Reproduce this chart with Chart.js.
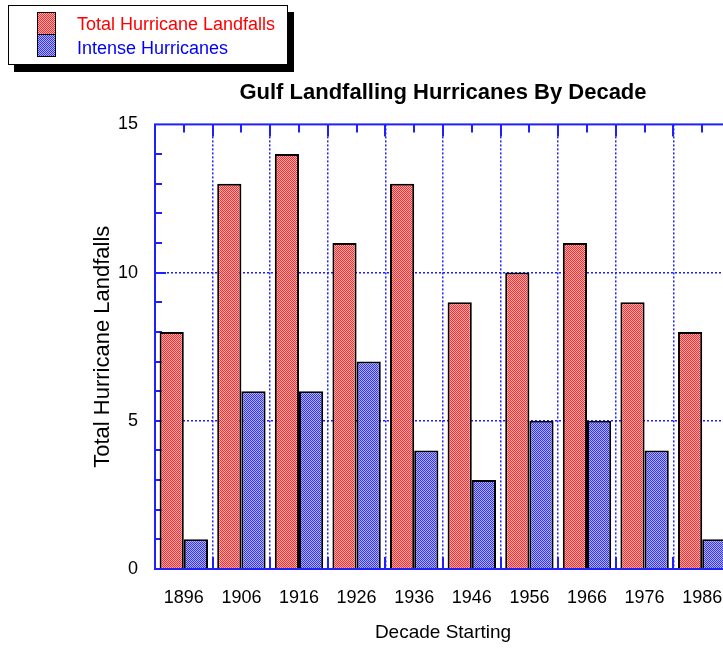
<!DOCTYPE html>
<html>
<head>
<meta charset="utf-8">
<script src="https://cdn.jsdelivr.net/npm/chart.js@4.4.1/dist/chart.umd.min.js"></script>
<style>
  html, body { margin: 0; padding: 0; overflow: hidden; background: #fff; width: 723px; height: 649px; }
  #wrap { position: relative; width: 745px; height: 649px; }
  #c { position: absolute; left: 0; top: 0; }
  #legend {
    position: absolute; left: 8px; top: 5px; width: 278px; height: 58px;
    border: 1.5px solid #000; background: #fff; box-shadow: 6px 7px 0 #000;
    font-family: "Liberation Sans", Arial, sans-serif; font-size: 18px;
  }
  #legend .sw { position: absolute; left: 28px; top: 6px; width: 17px; border: 1.5px solid #000; }
  #legend .sw div { height: 21px; }
  #legend .sw div + div { border-top: 1.5px solid #000; }
  #legend .item { position: absolute; left: 68px; line-height: 22px; white-space: nowrap; }
</style>
</head>
<body>
<div id="wrap">
  <canvas id="c" width="745" height="649"></canvas>
  <div id="legend"></div>
</div>
<script>
// values
const decades = ["1896", "1906", "1916", "1926", "1936", "1946", "1956", "1966", "1976", "1986"];
const totalLandfalls = [8, 13, 14, 11, 13, 9, 10, 11, 9, 8];
const intenseHurricanes = [1, 6, 6, 7, 4, 3, 5, 5, 4, 1];
const seriesNames = ["Total Hurricane Landfalls", "Intense Hurricanes"];
const yTicks = [0, 5, 10, 15];

const AXIS = "#1f1fff";
const FONT = "'Liberation Sans', Arial, sans-serif";

const canvas = document.getElementById("c");
const ctx = canvas.getContext("2d");

// 2x2 dither like the old Mac fill patterns
const checker = (c1, c2) => {
  const p = document.createElement("canvas");
  p.width = 2; p.height = 2;
  const g = p.getContext("2d");
  g.fillStyle = c2; g.fillRect(0, 0, 2, 2);
  g.fillStyle = c1; g.fillRect(0, 0, 1, 1); g.fillRect(1, 1, 1, 1);
  return ctx.createPattern(p, "repeat");
};

const redFill = checker("#ff2a2a", "#ffb0b0");
const blueFill = checker("#3030ff", "#b4b4ff");

// legend box (html, with the hard drop shadow)
const legend = document.getElementById("legend");
legend.innerHTML =
  '<div class="sw"><div style="background: repeating-conic-gradient(#ff2a2a 0 25%, #ffb0b0 0 50%) 0 0/2px 2px"></div>' +
  '<div style="background: repeating-conic-gradient(#3030ff 0 25%, #b4b4ff 0 50%) 0 0/2px 2px"></div></div>' +
  '<div class="item" style="top:7px;color:#f00">' + seriesNames[0] + '</div>' +
  '<div class="item" style="top:31px;color:#00f">' + seriesNames[1] + '</div>';

// frame and inward tick marks
const frame = {
  id: "frame",
  beforeDatasetsDraw(chart) {
    const { ctx, chartArea: a, scales: { x, y } } = chart;
    ctx.save();
    ctx.strokeStyle = AXIS;
    ctx.lineWidth = 2;
    ctx.beginPath();
    for (let v = 1; v < 15; v++) {
      const py = Math.round(y.getPixelForValue(v));
      const len = v % 5 === 0 ? 11 : 7;
      ctx.moveTo(a.left, py); ctx.lineTo(a.left + len, py);
    }
    const step = x.getPixelForValue(1) - x.getPixelForValue(0);
    decades.forEach((d, i) => {
      const cx = Math.round(x.getPixelForValue(i));
      ctx.moveTo(cx, a.top); ctx.lineTo(cx, a.top + 8);
      const bx = Math.round(x.getPixelForValue(i) + step / 2);
      ctx.moveTo(bx, a.top); ctx.lineTo(bx, a.top + 12);
      ctx.moveTo(bx, a.bottom); ctx.lineTo(bx, a.bottom - 12);
    });
    ctx.stroke();
    ctx.restore();
  },
  afterDatasetsDraw(chart) {
    const { ctx, chartArea: a } = chart;
    ctx.save();
    ctx.strokeStyle = AXIS;
    ctx.lineWidth = 2;
    ctx.strokeRect(a.left, a.top, a.right - a.left, a.bottom - a.top);
    ctx.restore();
  }
};

new Chart(ctx, {
  type: "bar",
  data: {
    labels: decades,
    datasets: [
      {
        label: seriesNames[0],
        data: totalLandfalls,
        backgroundColor: redFill,
        borderColor: "#000",
        borderWidth: 2,
      },
      {
        label: seriesNames[1],
        data: intenseHurricanes,
        backgroundColor: blueFill,
        borderColor: "#000",
        borderWidth: 2,
      },
    ],
  },
  options: {
    responsive: false,
    animation: false,
    categoryPercentage: 0.84,
    barPercentage: 1.0,
    layout: { padding: { left: 0, right: 14, top: 0, bottom: 0 } },
    plugins: {
      legend: { display: false },
      tooltip: { enabled: false },
      title: {
        display: true,
        fullSize: false,
        text: "Gulf Landfalling Hurricanes By Decade",
        color: "#000",
        font: { family: FONT, size: 22, weight: "bold" },
        padding: { top: 80, bottom: 18 },
      },
    },
    scales: {
      x: {
        grid: { drawTicks: false, lineWidth: 1.5, color: AXIS },
        border: { display: false, dash: [2, 2] },
        ticks: { color: "#000", padding: 18, font: { family: FONT, size: 18 } },
        title: {
          display: true,
          text: "Decade Starting",
          color: "#000",
          font: { family: FONT, size: 19 },
          padding: { top: 0, bottom: 5 },
        },
        afterFit: (s) => { s.height = 80; },
      },
      y: {
        min: 0,
        max: 15,
        grid: {
          drawTicks: false,
          lineWidth: 1.5,
          color: (c) => (c.tick && yTicks.includes(c.tick.value) && c.tick.value > 0 && c.tick.value < 15 ? AXIS : "rgba(0,0,0,0)"),
        },
        border: { display: false, dash: [2, 2] },
        ticks: {
          stepSize: 1,
          autoSkip: false,
          padding: 17,
          color: "#000",
          font: { family: FONT, size: 18 },
          callback: (v) => (yTicks.includes(v) ? v : ""),
        },
        title: {
          display: true,
          text: "Total Hurricane Landfalls",
          color: "#000",
          font: { family: FONT, size: 22 },
          padding: { top: 90, bottom: 0 },
        },
        afterFit: (s) => { s.width = 155; },
      },
    },
  },
  plugins: [frame],
});
</script>
</body>
</html>
